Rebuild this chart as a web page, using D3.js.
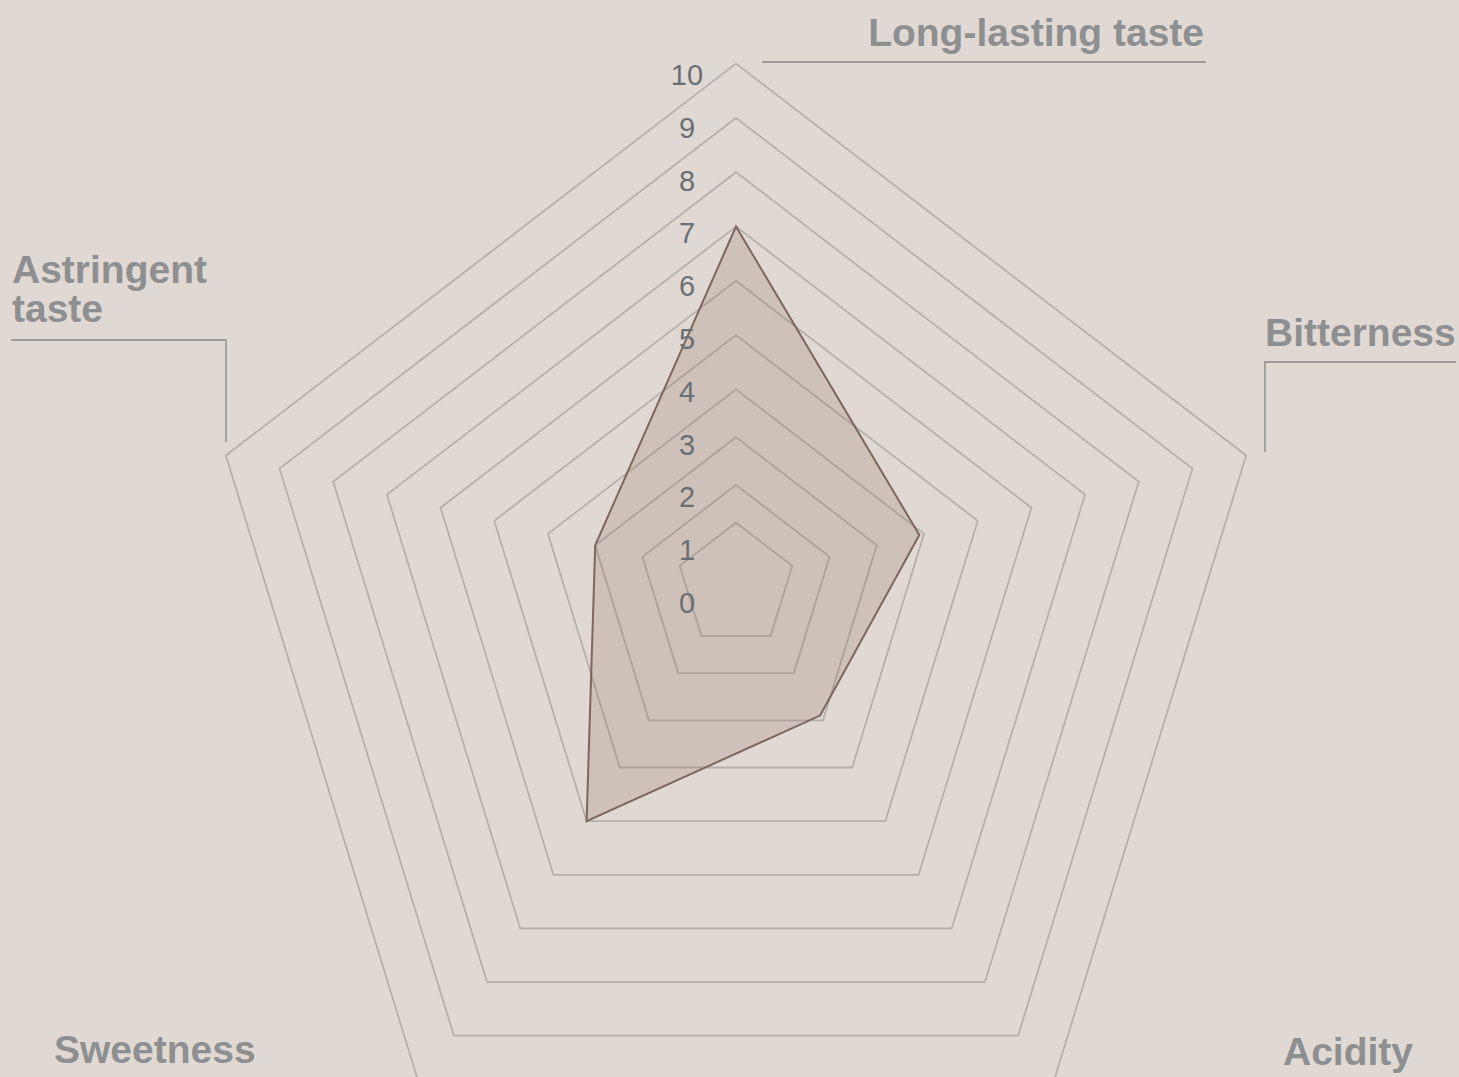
<!DOCTYPE html>
<html>
<head>
<meta charset="utf-8">
<script src="https://cdn.jsdelivr.net/npm/d3@7"></script>
<style>
  body { margin: 0; background: #e0d9d3; }
  svg { display: block; }
</style>
</head>
<body>
<div id="my_radar"></div>
<script>
// taste profile, clockwise from the top
var axes = ["Long-lasting taste", "Bitterness", "Acidity", "Sweetness", "Astringent taste"];
var values = [7, 3.9, 2.9, 5, 3];
var levels = [1, 2, 3, 4, 5, 6, 7, 8, 9, 10];
var tickLabels = [0, 1, 2, 3, 4, 5, 6, 7, 8, 9, 10];

var width = 1459, height = 1077;
var cx = 736;

// radial scale (the web is a bit tighter near the middle)
var r = d3.scaleLinear()
    .domain([1, 2, 4, 10])
    .range([62.5, 104, 209, 567]);

// tick labels are spaced evenly
var tickY = d3.scaleLinear()
    .domain([0, 10])
    .range([613, 85]);

var angle = d3.scalePoint()
    .domain(axes)
    .range([0, 2 * Math.PI * 4 / 5]);

// pentagons are a bit squashed and each ring sits a little lower
function point(v, a) {
    var rr = r(v);
    var cy = 579.6 + 0.09 * rr;
    return [cx + 0.946 * rr * Math.sin(a), cy - rr * Math.cos(a)];
}

var svg = d3.select("#my_radar")
    .append("svg")
    .attr("width", width)
    .attr("height", height);

svg.append("rect")
    .attr("width", width)
    .attr("height", height)
    .attr("fill", "#e0d9d3");

var line = d3.line().curve(d3.curveLinearClosed);

// grid
svg.append("g")
    .selectAll("path")
    .data(levels)
    .enter()
    .append("path")
    .attr("d", function(l) {
        return line(axes.map(function(a) { return point(l, angle(a)); }));
    })
    .attr("fill", "none")
    .attr("stroke", "#b5b0ac")
    .attr("stroke-width", 1.8);

// data area
svg.append("path")
    .datum(values)
    .attr("d", function(d) {
        return line(d.map(function(v, i) { return point(v, angle(axes[i])); }));
    })
    .attr("fill", "#8c6f5f")
    .attr("fill-opacity", 0.22)
    .attr("stroke", "#7b675d")
    .attr("stroke-width", 2)
    .attr("stroke-linejoin", "miter");

// value ticks
svg.append("g")
    .selectAll("text")
    .data(tickLabels)
    .enter()
    .append("text")
    .attr("x", 687)
    .attr("y", function(d) { return tickY(d); })
    .attr("text-anchor", "middle")
    .attr("font-family", "'Liberation Sans', Arial, sans-serif")
    .attr("font-size", "29px")
    .attr("fill", "#6b6f73")
    .text(function(d) { return d; });

// axis names with their leader lines
var labelLayout = [
    { lines: ["Long-lasting taste"], x: 1204, y: 46, anchor: "end", leader: [[762, 62], [1206, 62]] },
    { lines: ["Bitterness"], x: 1265, y: 346, anchor: "start", leader: [[1265, 452], [1265, 362], [1456, 362]] },
    { lines: ["Acidity"], x: 1283, y: 1065, anchor: "start", leader: null },
    { lines: ["Sweetness"], x: 54, y: 1063, anchor: "start", leader: null },
    { lines: ["Astringent", "taste"], x: 12, y: 283, anchor: "start", leader: [[11, 340], [226, 340], [226, 442]] }
];

var lab = svg.append("g")
    .selectAll("g")
    .data(labelLayout)
    .enter()
    .append("g");

lab.filter(function(d) { return d.leader; })
    .append("path")
    .attr("d", function(d) { return d3.line()(d.leader); })
    .attr("fill", "none")
    .attr("stroke", "#9c9c9c")
    .attr("stroke-width", 1.8);

lab.append("text")
    .attr("x", function(d) { return d.x; })
    .attr("y", function(d) { return d.y; })
    .attr("text-anchor", function(d) { return d.anchor; })
    .attr("font-family", "'Liberation Sans', Arial, sans-serif")
    .attr("font-weight", "bold")
    .attr("font-size", "39px")
    .attr("fill", "#8e8f91")
    .selectAll("tspan")
    .data(function(d) { return d.lines.map(function(t) { return { t: t, x: d.x }; }); })
    .enter()
    .append("tspan")
    .attr("x", function(d) { return d.x; })
    .attr("dy", function(d, i) { return i ? 38.7 : 0; })
    .text(function(d) { return d.t; });
</script>
</body>
</html>
